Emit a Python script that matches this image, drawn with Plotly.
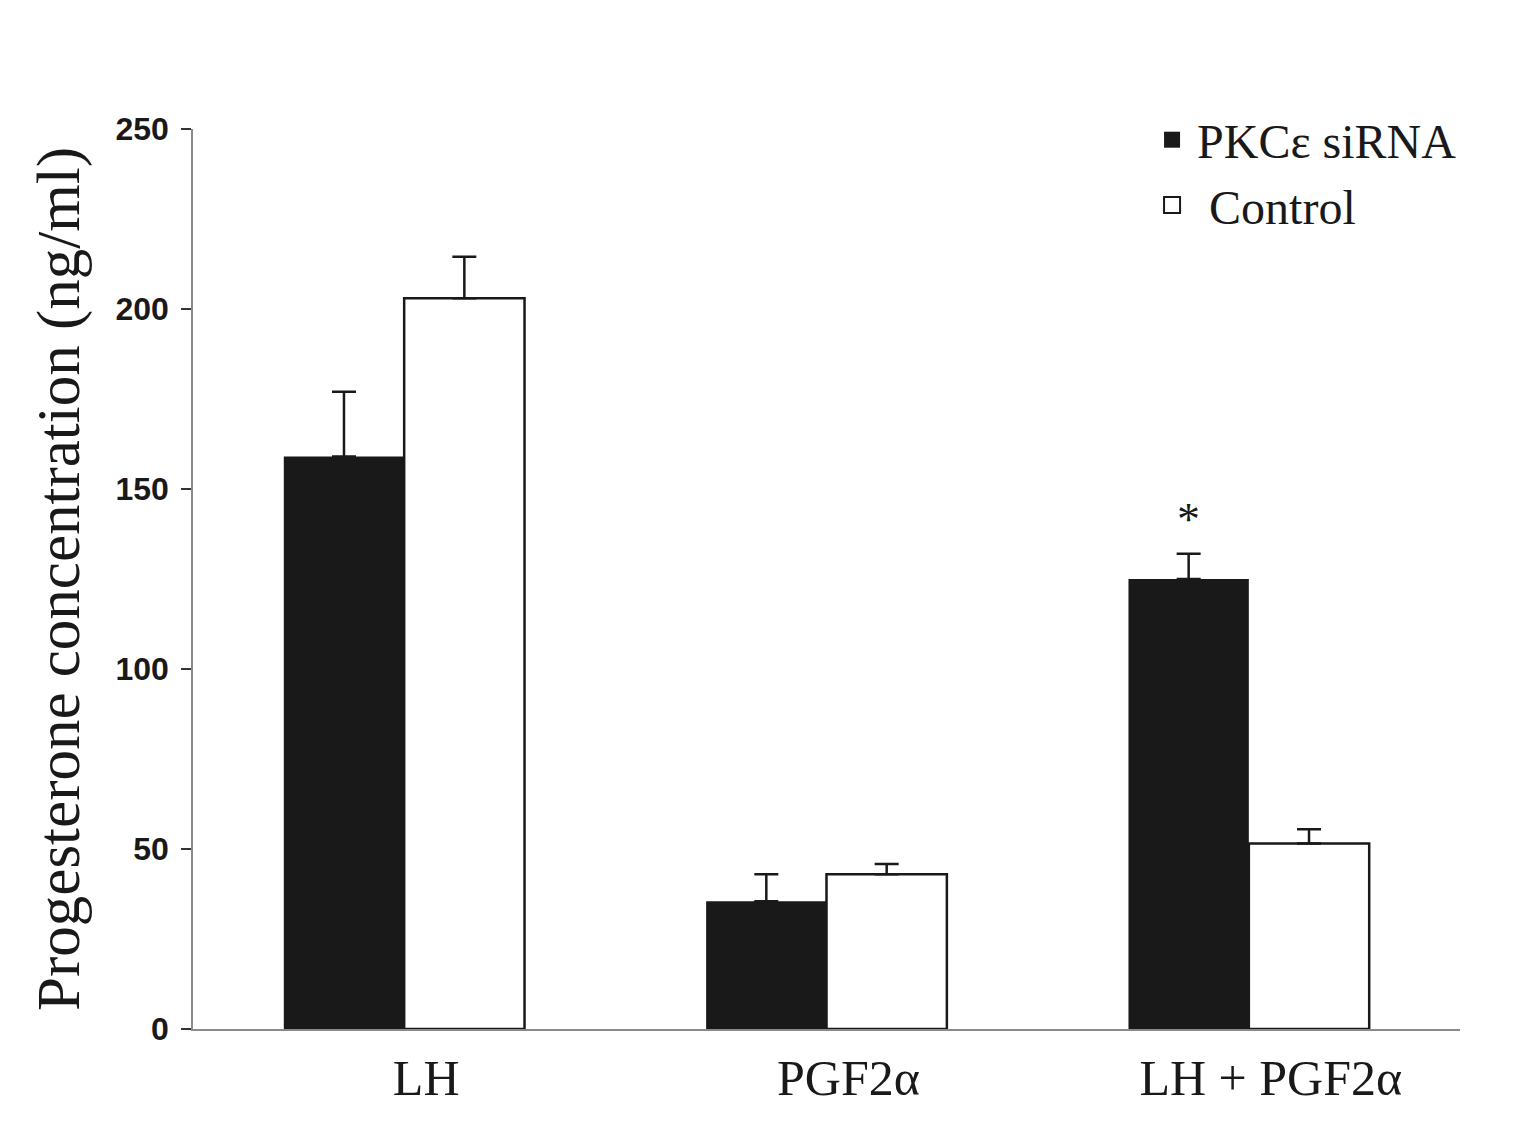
import plotly.graph_objects as go

# treatments on the x axis
treatments = ["LH", "PGF2α", "LH + PGF2α"]

# progesterone (ng/ml)
sirna_mean = [159, 35.5, 125]
sirna_err = [18, 7.5, 7]
control_mean = [203, 43, 51.5]
control_err = [11.5, 2.8, 4]

serif = "Liberation Serif, Times New Roman, serif"
ink = "#191919"

fig = go.Figure()

# bars for PKCe siRNA (filled black)
fig.add_trace(go.Bar(
    x=treatments,
    y=sirna_mean,
    name="PKCε siRNA",
    marker=dict(color=ink, line=dict(color=ink, width=0)),
    error_y=dict(type="data", array=sirna_err, arrayminus=[0, 0, 0],
                 symmetric=False, color=ink, thickness=2.5, width=12),
    showlegend=False,
))

# bars for control (open)
fig.add_trace(go.Bar(
    x=treatments,
    y=control_mean,
    name="Control",
    marker=dict(color="white", line=dict(color=ink, width=2.5)),
    error_y=dict(type="data", array=control_err, arrayminus=[0, 0, 0],
                 symmetric=False, color=ink, thickness=2.5, width=12),
    showlegend=False,
))

# legend entries with bigger square symbols
fig.add_trace(go.Scatter(
    x=[None], y=[None], mode="markers", name="PKCε siRNA",
    marker=dict(symbol="square", size=22, color=ink),
))
fig.add_trace(go.Scatter(
    x=[None], y=[None], mode="markers", name=" Control",
    marker=dict(symbol="square", size=20, color="white",
                line=dict(color=ink, width=2)),
))

# significance star above LH + PGF2a siRNA bar
fig.add_annotation(
    x="LH + PGF2α", y=141.5, xshift=-60, text="*", showarrow=False,
    font=dict(family=serif, size=46, color=ink), yanchor="middle",
)

# page body adds 8px, so margins are a bit smaller
fig.update_layout(
    width=1521,
    height=1147,
    margin=dict(l=185, r=69, t=121, b=126),
    plot_bgcolor="white",
    paper_bgcolor="white",
    barmode="group",
    bargap=0.43,
    bargroupgap=0,
    legend=dict(
        x=0.753, y=1.03, xanchor="left", yanchor="top",
        font=dict(family=serif, size=48, color=ink),
        bgcolor="rgba(0,0,0,0)", tracegroupgap=0, itemwidth=40,
    ),
)

fig.update_yaxes(
    range=[0, 250],
    tickvals=[0, 50, 100, 150, 200, 250],
    showline=True, linecolor="#8a8a8a", linewidth=1.5,
    ticks="outside", ticklen=10, tickwidth=1.5, tickcolor="#333",
    ticklabelstandoff=6,
    showgrid=False, zeroline=False,
    tickfont=dict(family="Liberation Sans, Arial, sans-serif", size=32,
                  color=ink, weight="bold"),
    title=dict(text="Progesterone concentration (ng/ml)",
               font=dict(family=serif, size=61, color=ink), standoff=16),
)

fig.update_xaxes(
    showline=True, linecolor="#8a8a8a", linewidth=1.5,
    ticks="", showgrid=False,
    ticklabelshift=22, ticklabelstandoff=4,
    tickfont=dict(family=serif, size=50, color=ink),
)

fig.write_html("out.html")
